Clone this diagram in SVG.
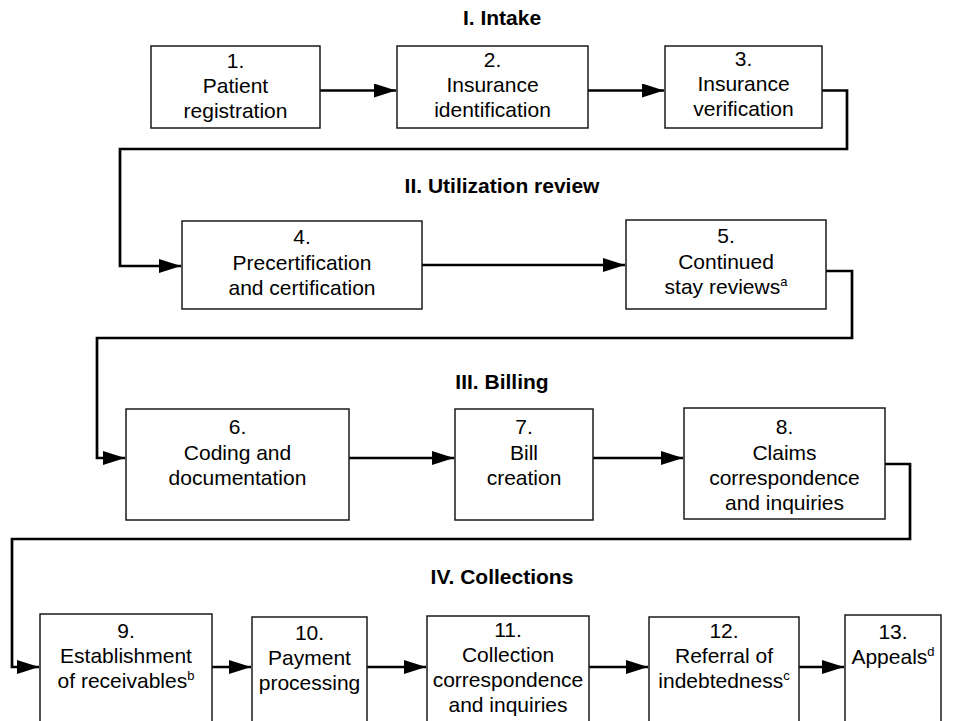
<svg xmlns="http://www.w3.org/2000/svg" width="953" height="721" viewBox="0 0 953 721">
<style>
.box{fill:#fff;stroke:#1a1a1a;stroke-width:1.5}
.t{font-family:"Liberation Sans",Arial,sans-serif;font-size:21px;fill:#000;text-anchor:middle}
.h{font-family:"Liberation Sans",Arial,sans-serif;font-size:21px;font-weight:bold;fill:#000;text-anchor:middle}
.c{fill:none;stroke:#000;stroke-width:2.7}
.sup{font-size:13px}
</style>
<defs>
<marker id="ah" markerUnits="userSpaceOnUse" markerWidth="24" markerHeight="16" refX="22" refY="7" orient="auto">
<path d="M0,0 L22,7 L0,14 z" fill="#000"/>
</marker>
</defs>
<rect width="953" height="721" fill="#fff"/>
<g id="titles">
<text class="h" x="502" y="25">I. Intake</text>
<text class="h" x="502" y="193">II. Utilization review</text>
<text class="h" x="502" y="389">III. Billing</text>
<text class="h" x="502" y="584">IV. Collections</text>
</g>
<g id="connectors">
<path class="c" d="M320,90.5 H396" marker-end="url(#ah)"/>
<path class="c" d="M588,90.5 H664" marker-end="url(#ah)"/>
<path class="c" d="M822,90.5 H847 V149 H120 V266 H181" marker-end="url(#ah)"/>
<path class="c" d="M422,265 H625" marker-end="url(#ah)"/>
<path class="c" d="M826,271 H852 V338 H97 V458 H125" marker-end="url(#ah)"/>
<path class="c" d="M349,458 H454" marker-end="url(#ah)"/>
<path class="c" d="M593,458 H683" marker-end="url(#ah)"/>
<path class="c" d="M885,464 H910 V539 H12 V667 H39" marker-end="url(#ah)"/>
<path class="c" d="M212,667 H251" marker-end="url(#ah)"/>
<path class="c" d="M367,667 H426" marker-end="url(#ah)"/>
<path class="c" d="M589,667 H648" marker-end="url(#ah)"/>
<path class="c" d="M799,667 H844" marker-end="url(#ah)"/>
</g>
<g id="n1"><rect class="box" x="151" y="46" width="169" height="82"/>
<text class="t" x="235.5" y="68">1.</text><text class="t" x="235.5" y="93">Patient</text><text class="t" x="235.5" y="118">registration</text></g>
<g id="n2"><rect class="box" x="397" y="46" width="191" height="82"/>
<text class="t" x="492.5" y="67">2.</text><text class="t" x="492.5" y="92">Insurance</text><text class="t" x="492.5" y="117">identification</text></g>
<g id="n3"><rect class="box" x="665" y="46" width="157" height="82"/>
<text class="t" x="743.5" y="66">3.</text><text class="t" x="743.5" y="91">Insurance</text><text class="t" x="743.5" y="116">verification</text></g>
<g id="n4"><rect class="box" x="182" y="221" width="240" height="88"/>
<text class="t" x="302" y="244">4.</text><text class="t" x="302" y="270">Precertification</text><text class="t" x="302" y="295">and certification</text></g>
<g id="n5"><rect class="box" x="626" y="220" width="200" height="89"/>
<text class="t" x="726" y="243">5.</text><text class="t" x="726" y="269">Continued</text><text class="t" x="726" y="294">stay reviews<tspan class="sup" dy="-8">a</tspan></text></g>
<g id="n6"><rect class="box" x="126" y="409" width="223" height="111"/>
<text class="t" x="237.5" y="434">6.</text><text class="t" x="237.5" y="460">Coding and</text><text class="t" x="237.5" y="485">documentation</text></g>
<g id="n7"><rect class="box" x="455" y="409" width="138" height="111"/>
<text class="t" x="524" y="434">7.</text><text class="t" x="524" y="460">Bill</text><text class="t" x="524" y="485">creation</text></g>
<g id="n8"><rect class="box" x="684" y="408" width="201" height="111"/>
<text class="t" x="784.5" y="434">8.</text><text class="t" x="784.5" y="460">Claims</text><text class="t" x="784.5" y="485">correspondence</text><text class="t" x="784.5" y="510">and inquiries</text></g>
<g id="n9"><rect class="box" x="40" y="614" width="172" height="120"/>
<text class="t" x="126" y="638">9.</text><text class="t" x="126" y="663">Establishment</text><text class="t" x="126" y="688">of receivables<tspan class="sup" dy="-8">b</tspan></text></g>
<g id="n10"><rect class="box" x="252" y="617" width="115" height="120"/>
<text class="t" x="309.5" y="640">10.</text><text class="t" x="309.5" y="665">Payment</text><text class="t" x="309.5" y="690">processing</text></g>
<g id="n11"><rect class="box" x="427" y="616" width="162" height="120"/>
<text class="t" x="508" y="637">11.</text><text class="t" x="508" y="662">Collection</text><text class="t" x="508" y="687">correspondence</text><text class="t" x="508" y="712">and inquiries</text></g>
<g id="n12"><rect class="box" x="649" y="617" width="150" height="120"/>
<text class="t" x="724" y="638">12.</text><text class="t" x="724" y="663">Referral of</text><text class="t" x="724" y="688">indebtedness<tspan class="sup" dy="-8">c</tspan></text></g>
<g id="n13"><rect class="box" x="845" y="615" width="96" height="120"/>
<text class="t" x="893" y="639">13.</text><text class="t" x="893" y="664">Appeals<tspan class="sup" dy="-8">d</tspan></text></g>
</svg>
